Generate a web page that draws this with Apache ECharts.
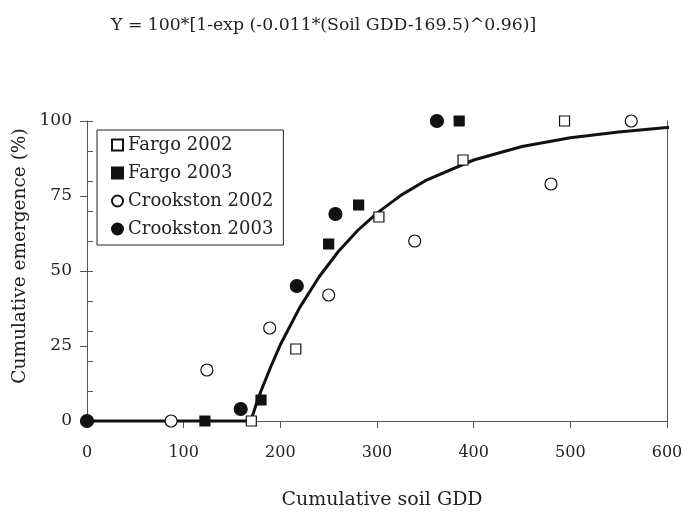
<!DOCTYPE html>
<html><head><meta charset="utf-8">
<script src="https://cdn.jsdelivr.net/npm/echarts@6/dist/echarts.min.js"></script>
<style>html,body{margin:0;padding:0;background:#fff}#c{width:683px;height:512px}</style>
</head><body><div id="c"></div>
<script>
// Data
const fargo2002 = [[170,0],[216,24],[302,68],[389,87],[494,100]];
const fargo2003 = [[122,0],[180,7],[250,59],[281,72],[385,100]];
const crookston2002 = [[87,0],[124,17],[189,31],[250,42],[339,60],[480,79],[563,100]];
const crookston2003 = [[0,0],[159,4],[217,45],[257,69],[362,100]];
const curveX = [0,100,169.5,175,180,190,200,220,240,260,280,300,325,350,400,450,500,550,600,612];
const curveY = [0,0,0,5.5,10,18,25.4,37.8,48,56.5,63.5,69.3,75.3,80.1,87,91.5,94.4,96.3,97.8,98.2];
const xTicks = [0,100,200,300,400,500,600];
const yTicks = [0,25,50,75,100];
const titleText = 'Y = 100*[1-exp (-0.011*(Soil GDD-169.5)^0.96)]';
const xName = 'Cumulative soil GDD';
const yName = 'Cumulative emergence (%)';

const SERIF = '"DejaVu Serif", serif';
const AX = '#555';
const TXT = '#222';
const chart = echarts.init(document.getElementById('c'), null, {renderer:'canvas'});
const curve = curveX.map((x,i)=>[x,curveY[i]]);
const mk = (name, data, symbol, size, filled) => ({
  name, type:'scatter', data, symbol, symbolSize:size, z:5,
  itemStyle:{color: filled ? '#111' : '#fff', borderColor:'#111', borderWidth:1.2, opacity:1}
});
chart.setOption({
  animation:false,
  backgroundColor:'#fff',
  title:{text:titleText, left:106, top:12, textStyle:{fontFamily:SERIF, fontSize:17.3, fontWeight:'normal', color:TXT}},
  legend:{
    orient:'vertical', left:97, top:130,
    borderColor:'#222', borderWidth:1, padding:[6,10,7,14], itemGap:10,
    itemWidth:11, itemHeight:11,
    textStyle:{fontFamily:SERIF, fontSize:18, lineHeight:18, color:TXT},
    data:['Fargo 2002','Fargo 2003','Crookston 2002','Crookston 2003']
  },
  grid:{left:87, right:16, top:121, bottom:91, containLabel:false, outerBoundsMode:'none'},
  graphic:[{
    type:'text', x:20, y:256, rotation:Math.PI/2,
    style:{text:yName, fontFamily:SERIF, fontSize:18.5, fill:TXT, align:'center', verticalAlign:'middle'}
  }],
  xAxis:[{
    type:'value', min:0, max:600, interval:100,
    name:xName, nameLocation:'middle', nameGap:70,
    nameTextStyle:{fontFamily:SERIF, fontSize:19, color:TXT, padding:[0,0,0,10]},
    axisLine:{lineStyle:{color:AX, width:1}},
    axisTick:{show:true, inside:false, length:7, lineStyle:{color:AX}},
    axisLabel:{fontFamily:SERIF, fontSize:16, color:TXT, margin:24,
      formatter:v=>xTicks.includes(v)?String(v):''},
    splitLine:{show:false}
  },{
    type:'value', position:'top', min:0, max:600,
    axisLine:{show:true, lineStyle:{color:AX, width:1}},
    axisTick:{show:false}, axisLabel:{show:false}, splitLine:{show:false}
  }],
  yAxis:[{
    type:'value', min:0, max:100, interval:25,
    axisLine:{show:true, lineStyle:{color:AX, width:1}},
    axisTick:{show:true, inside:false, length:7, lineStyle:{color:AX}},
    axisLabel:{fontFamily:SERIF, fontSize:17, color:TXT, margin:15,
      formatter:v=>yTicks.includes(v)?String(v):''},
    splitLine:{show:false}
  },{
    type:'value', position:'right', min:0, max:100,
    axisLine:{show:true, onZero:false, lineStyle:{color:AX, width:1}},
    axisTick:{show:false}, axisLabel:{show:false}, splitLine:{show:false}
  },{
    type:'value', position:'left', min:0, max:100, interval:10,
    axisLine:{show:false},
    axisTick:{show:true, inside:true, length:6, lineStyle:{color:AX}},
    axisLabel:{show:false}, splitLine:{show:false}
  }],
  series:[
    {name:'fit', type:'line', data:curve, showSymbol:false, symbol:'none', clip:false, smooth:false,
      lineStyle:{color:'#111', width:3}, z:2},
    mk('Fargo 2002', fargo2002, 'rect', 10, false),
    mk('Fargo 2003', fargo2003, 'rect', 10, true),
    mk('Crookston 2002', crookston2002, 'circle', 12, false),
    mk('Crookston 2003', crookston2003, 'circle', 13, true)
  ]
});
</script></body></html>
